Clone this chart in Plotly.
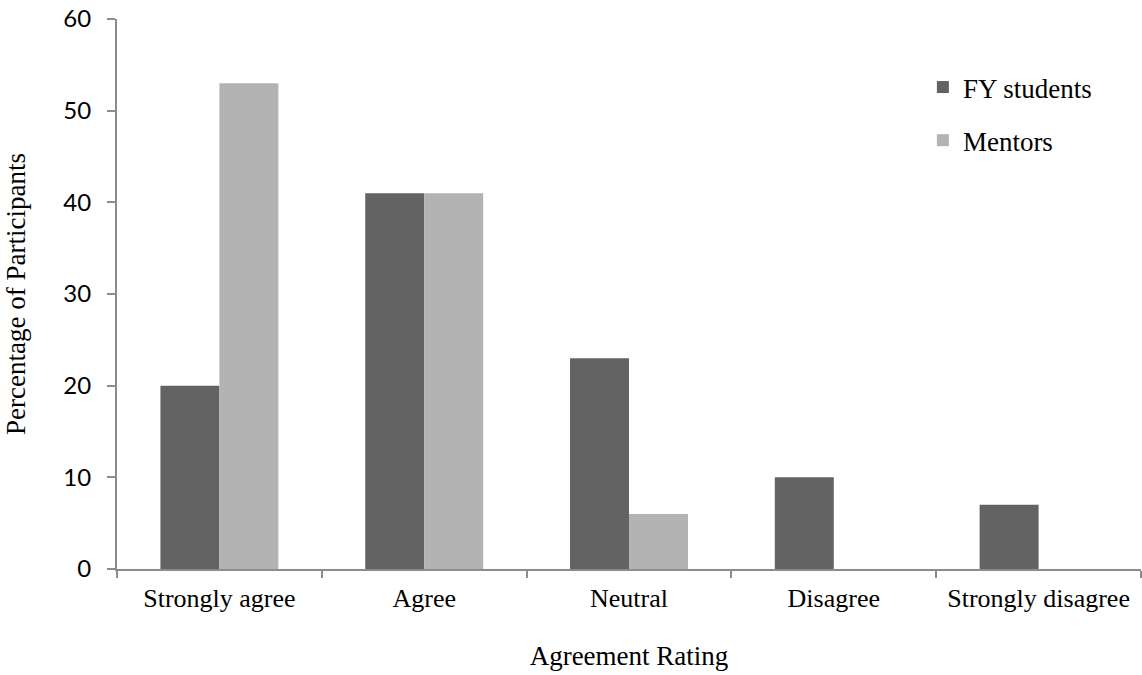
import plotly.graph_objects as go

categories = ["Strongly agree", "Agree", "Neutral", "Disagree", "Strongly disagree"]
fy_students = [20, 41, 23, 10, 7]
mentors = [53, 41, 6, 0, 0]
y_ticks = [0, 10, 20, 30, 40, 50, 60]

SERIF = "Liberation Serif"
SANS = "Lato"

fig = go.Figure()
fig.add_trace(go.Bar(x=categories, y=fy_students, name="FY students",
                     marker=dict(color="#636363", line=dict(width=0)),
                     legendgroup="a"))
fig.add_trace(go.Bar(x=categories, y=mentors, name="Mentors",
                     marker=dict(color="#b3b3b3", line=dict(width=0)),
                     legendgroup="b"))

fig.update_layout(
    width=1142, height=675,
    margin=dict(l=117, r=1, t=19, b=106),
    paper_bgcolor="white", plot_bgcolor="white",
    barmode="group", bargap=0.424, bargroupgap=0,
    showlegend=True,
    legend=dict(x=0.787, y=0.92, xanchor="left", yanchor="top",
                font=dict(family=SERIF, size=27, color="#000"),
                tracegroupgap=15, traceorder="grouped", itemwidth=30,
                bgcolor="rgba(0,0,0,0)"),
    xaxis=dict(
        showline=True, linecolor="#8c8c8c", linewidth=2,
        ticks="outside", tickson="boundaries", ticklen=7, tickcolor="#8c8c8c", tickwidth=1.5,
        tickfont=dict(family=SERIF, size=26, color="#000"),
        ticklabelstandoff=5,
        title=dict(text="Agreement Rating", font=dict(family=SERIF, size=27, color="#000"), standoff=34),
        showgrid=False,
    ),
    yaxis=dict(
        range=[0, 60], tickvals=y_ticks,
        showline=True, linecolor="#8c8c8c", linewidth=2,
        ticks="outside", ticklen=8, tickcolor="#8c8c8c", tickwidth=1.5,
        tickfont=dict(family=SANS, size=24, color="#000"),
        ticklabelstandoff=11,
        title=dict(text="Percentage of Participants", font=dict(family=SERIF, size=27, color="#000"), standoff=30),
        showgrid=False, zeroline=False,
    ),
)

fig.write_html("out.html", config={"displayModeBar": False},
               post_script="document.body.style.margin='0';")
